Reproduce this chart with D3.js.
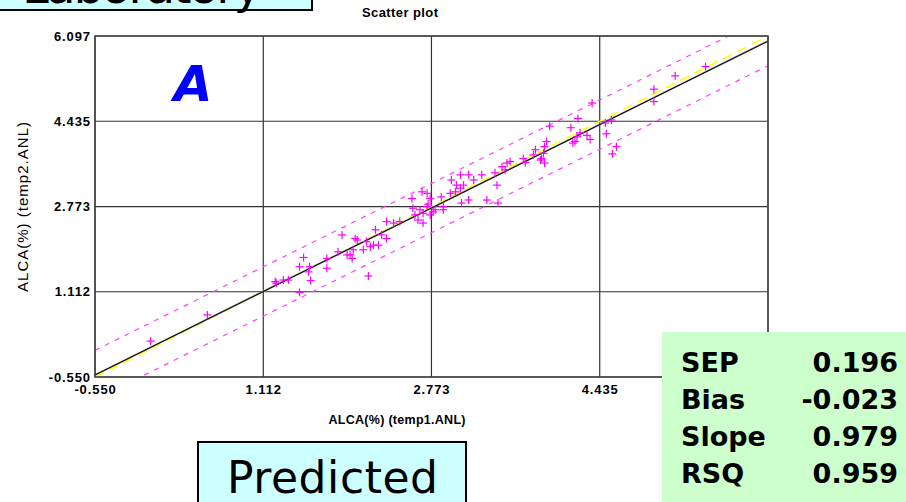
<!DOCTYPE html>
<html><head><meta charset="utf-8">
<script src="https://cdn.jsdelivr.net/npm/d3@7"></script>
<style>body{margin:0;background:#fff}svg{display:block}</style>
</head><body>
<svg id="c" width="906" height="502"></svg>
<script>
// ---------- data ----------
const tickValues = [-0.550, 1.112, 2.773, 4.435, 6.097];
const tickLabels = ["-0.550", "1.112", "2.773", "4.435", "6.097"];
const temp1 = [0.00,0.56,1.23,1.31,1.47,1.51,1.57,1.56,1.58,1.47,1.24,1.36,1.74,1.74,1.85,1.89,2.02,2.04,2.00,1.97,1.99,2.10,1.94,2.15,2.22,2.28,2.33,2.13,2.20,2.17,2.25,2.33,2.40,2.46,2.59,2.66,2.73,2.81,2.89,2.61,2.69,2.76,2.79,2.87,2.73,2.68,2.58,2.76,2.64,2.69,2.74,2.89,2.97,3.06,3.14,3.19,3.27,3.40,3.02,3.06,3.01,2.96,3.09,3.42,3.32,3.43,3.14,3.07,3.47,3.50,3.52,3.55,3.68,3.70,3.78,3.80,3.85,3.86,3.88,3.89,3.91,3.89,3.94,4.15,4.21,4.19,4.17,4.31,4.34,4.24,4.22,4.36,4.49,4.55,4.50,4.60,4.56,4.97,4.97,5.18,5.48];
const temp2 = [0.15,0.66,1.31,1.34,1.60,1.78,1.60,1.50,1.33,1.10,1.28,1.34,1.76,1.57,1.89,2.22,2.15,2.12,1.93,1.83,1.76,1.93,1.83,1.42,2.32,2.22,2.15,2.09,2.02,1.99,2.02,2.48,2.45,2.48,2.74,2.71,2.77,2.71,2.77,2.61,2.64,2.61,2.67,2.96,3.03,3.06,2.93,2.93,2.51,2.45,2.82,2.71,3.29,3.39,3.39,3.29,3.39,3.43,3.19,3.13,3.06,3.03,3.19,3.19,2.90,2.84,2.90,2.84,3.55,3.49,3.62,3.65,3.71,3.63,3.78,3.88,3.68,3.71,3.81,3.62,4.04,3.94,4.34,4.31,4.13,4.04,4.01,4.16,4.08,4.21,4.49,4.79,4.40,4.46,4.19,3.94,3.80,5.06,4.82,5.32,5.50];
const regression = [0.028, 0.979];   // intercept, slope
const limitOffset = [0.48];
const statNames = ["SEP", "Bias", "Slope", "RSQ"];
const statValues = ["0.196", "-0.023", "0.979", "0.959"];
const titleText = ["Scatter plot"];
const axisTitles = ["ALCA(%) (temp1.ANL)", "ALCA(%) (temp2.ANL)"];
const boxTexts = ["Laboratory", "Predicted"];
const panelLetter = ["A"];

// ---------- layout ----------
const svg = d3.select("#c");
const L = 95, R = 768, T = 36, B = 377;
const x = d3.scaleLinear().domain([-0.550, 6.097]).range([L, R]);
const y = d3.scaleLinear().domain([-0.550, 6.097]).range([B, T]);
const axFont = "'Liberation Sans', Arial, sans-serif";
const comic = "'Comic Sans MS', 'DejaVu Sans', sans-serif";

// Laboratory box (cut off at top, as in the reference)
svg.append("rect").attr("x", -5).attr("y", -60).attr("width", 317).attr("height", 70)
  .attr("fill", "#ccffff").attr("stroke", "#000").attr("stroke-width", 2);
svg.append("text").attr("x", 22).attr("y", 3).attr("font-family", comic)
  .attr("font-size", 48).attr("textLength", 240).text(boxTexts[0]);

// title
svg.append("text").attr("x", 400).attr("y", 17).attr("text-anchor", "middle")
  .attr("font-family", axFont).attr("font-weight", "bold").attr("font-size", 13)
  .attr("textLength", 76).text(titleText[0]);

// plot background + grid
svg.append("rect").attr("x", L).attr("y", T).attr("width", R - L).attr("height", B - T).attr("fill", "#fff");
const grid = svg.append("g").attr("stroke", "#333").attr("stroke-width", 1.2);
tickValues.forEach(v => {
  grid.append("line").attr("x1", x(v)).attr("x2", x(v)).attr("y1", T).attr("y2", B);
  grid.append("line").attr("y1", y(v)).attr("y2", y(v)).attr("x1", L).attr("x2", R);
});

// axes labels via d3 axes (no domain / tick lines)
const xAxis = d3.axisBottom(x).tickValues(tickValues).tickFormat((d, i) => tickLabels[i]).tickSize(0).tickPadding(8);
const yAxis = d3.axisLeft(y).tickValues(tickValues).tickFormat((d, i) => tickLabels[i]).tickSize(0).tickPadding(4);
const gx = svg.append("g").attr("transform", `translate(0,${B})`).call(xAxis);
const gy = svg.append("g").attr("transform", `translate(${L},0)`).call(yAxis);
[gx, gy].forEach(g => {
  g.select(".domain").remove();
  g.selectAll("text").attr("font-family", axFont).attr("font-weight", "bold").attr("font-size", 13)
    .attr("letter-spacing", "0.9px").attr("fill", "#000");
});

// axis titles
svg.append("text").attr("x", 397).attr("y", 424).attr("text-anchor", "middle")
  .attr("font-family", axFont).attr("font-weight", "bold").attr("font-size", 12.5)
  .attr("textLength", 137).text(axisTitles[0]);
svg.append("text").attr("transform", "translate(28,207) rotate(-90)").attr("text-anchor", "middle")
  .attr("font-family", axFont).attr("font-size", 15).attr("textLength", 170).attr("fill", "#000").text(axisTitles[1]);

// clip
svg.append("clipPath").attr("id", "clip").append("rect").attr("x", L).attr("y", T).attr("width", R - L).attr("height", B - T);
const plot = svg.append("g").attr("clip-path", "url(#clip)");
const xs = [-0.550, 6.097];
const lineGen = (a, b, off) => d3.line().x(d => x(d)).y(d => y(a + b * d + off))(xs);

// limit lines
[-1, 1].forEach(s => {
  plot.append("path").attr("d", lineGen(regression[0], regression[1], s * limitOffset[0]))
    .attr("fill", "none").attr("stroke", "#ff40ff").attr("stroke-width", 1.2).attr("stroke-dasharray", "5,6");
});
// identity line (yellow dashed)
plot.append("path").attr("d", lineGen(0, 1, 0)).attr("fill", "none")
  .attr("stroke", "#ffff00").attr("stroke-width", 1.5).attr("stroke-dasharray", "10,6");
// regression line
plot.append("path").attr("d", lineGen(regression[0], regression[1], 0)).attr("fill", "none")
  .attr("stroke", "#888").attr("stroke-width", 1.8);
plot.append("path").attr("d", lineGen(regression[0], regression[1], 0)).attr("fill", "none")
  .attr("stroke", "#000").attr("stroke-width", 1);

// points
const pts = plot.append("g").attr("stroke", "#ff00ff").attr("stroke-width", 1.2);
temp1.forEach((v, i) => {
  const px = x(v), py = y(temp2[i]), r = 4;
  pts.append("line").attr("x1", px - r).attr("x2", px + r).attr("y1", py).attr("y2", py);
  pts.append("line").attr("x1", px).attr("x2", px).attr("y1", py - r).attr("y2", py + r);
});

// frame
svg.append("rect").attr("x", L).attr("y", T).attr("width", R - L).attr("height", B - T)
  .attr("fill", "none").attr("stroke", "#444").attr("stroke-width", 1.5);

// panel letter
svg.append("text").attr("x", 193).attr("y", 101).attr("text-anchor", "middle")
  .attr("font-family", "'DejaVu Sans', sans-serif").attr("font-weight", "bold").attr("font-style", "italic")
  .attr("font-size", 50).attr("fill", "#0000ff").text(panelLetter[0]);

// Predicted box
svg.append("rect").attr("x", 198).attr("y", 442).attr("width", 268).attr("height", 80)
  .attr("fill", "#ccffff").attr("stroke", "#000").attr("stroke-width", 2);
svg.append("text").attr("x", 227).attr("y", 493).attr("font-family", comic)
  .attr("font-size", 44).attr("textLength", 211).text(boxTexts[1]);

// stats box
svg.append("rect").attr("x", 662).attr("y", 332).attr("width", 250).attr("height", 180).attr("fill", "#ccffcc");
statNames.forEach((n, i) => {
  const by = 372 + i * 37;
  svg.append("text").attr("x", 681).attr("y", by).attr("font-family", comic).attr("font-weight", "bold")
    .attr("font-size", 27).text(n);
  svg.append("text").attr("x", 898).attr("y", by).attr("text-anchor", "end").attr("font-family", comic)
    .attr("font-weight", "bold").attr("font-size", 27).text(statValues[i]);
});
</script>
</body></html>
